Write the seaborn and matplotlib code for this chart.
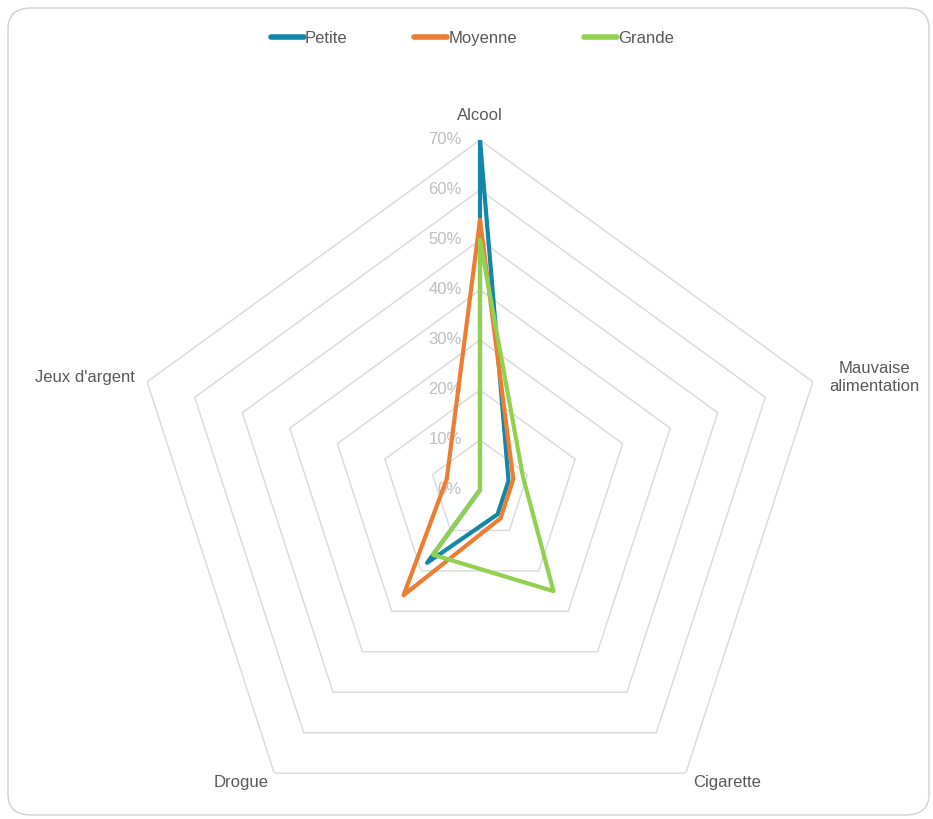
import numpy as np
import pandas as pd
import matplotlib
matplotlib.use("Agg")
import matplotlib.pyplot as plt
from matplotlib.patches import FancyBboxPatch
import seaborn as sns

# --- data ---
categories = ["Alcool", "Mauvaise\nalimentation", "Cigarette", "Drogue", "Jeux d'argent"]
series_names = ["Petite", "Moyenne", "Grande"]
petite = [0.70, 0.06, 0.06, 0.18, 0.00]
moyenne = [0.54, 0.07, 0.07, 0.26, 0.07]
grande = [0.50, 0.09, 0.25, 0.16, 0.00]
ring_values = [0.0, 0.1, 0.2, 0.3, 0.4, 0.5, 0.6, 0.7]
ring_labels = ["0%", "10%", "20%", "30%", "40%", "50%", "60%", "70%"]

colors = ["#1387A8", "#ED7D31", "#92D050"]
grid_color = "#D9D9D9"
text_color = "#595959"
tick_color = "#BFBFBF"

sns.set_theme(style="white")
plt.rcParams["font.family"] = ["Liberation Sans", "DejaVu Sans"]

n = len(categories)
theta = np.arange(n) * 2 * np.pi / n
theta_closed = np.append(theta, 2 * np.pi)

rows = []
for name, vals in zip(series_names, [petite, moyenne, grande]):
    closed = list(vals) + [vals[0]]
    for t, v in zip(theta_closed, closed):
        rows.append({"theta": t, "value": v, "series": name})
df = pd.DataFrame(rows)

W, H = 933, 819
fig = plt.figure(figsize=(W / 100, H / 100), dpi=100)

# outer rounded frame
frame = FancyBboxPatch((8 / W, 4 / H), (921 / W), (807 / H),
                       boxstyle="round,pad=0,rounding_size=0.025",
                       transform=fig.transFigure, facecolor="none",
                       edgecolor="#D0D0D0", linewidth=1.0, zorder=-1)
fig.patches.append(frame)

# polar axes: centre at (480, 490) px, 70% ring radius 350 px
cx, cy, R = 480, 490, 350
ax = fig.add_axes([(cx - R) / W, (H - cy - R) / H, 2 * R / W, 2 * R / H],
                  projection="polar")
ax.set_theta_zero_location("N")
ax.set_theta_direction(-1)
ax.grid(False)
ax.set_xticks([])
ax.set_yticks([])
ax.spines["polar"].set_visible(False)
ax.patch.set_alpha(0)

# polygon rings
for r in ring_values[1:]:
    ax.plot(theta_closed, [r] * (n + 1), color=grid_color, lw=1.0, zorder=1)

# radial tick labels
for r, lab in zip(ring_values, ring_labels):
    ax.annotate(lab, xy=(0, r), xytext=(-13, 0), textcoords="offset points",
                ha="right", va="center", fontsize=12, color=tick_color, zorder=2)

# data series
sns.lineplot(data=df, x="theta", y="value", hue="series", hue_order=series_names,
             palette=colors, sort=False, estimator=None, units="series",
             lw=3, ax=ax, legend=True, zorder=3)
for line in ax.lines[-3:]:
    line.set_solid_joinstyle("miter")
    line.set_solid_capstyle("round")
ax.set_ylim(0, 0.7)
ax.set_xlabel("")
ax.set_ylabel("")

# category labels
label_offsets = [(0, 18, "center"), (44, 3, "center"), (30, -7, "center"),
                 (-24, -7, "center"), (-9, 3, "right")]
for t, lab, (ox, oy, ha) in zip(theta, categories, label_offsets):
    ax.annotate(lab, xy=(t, 0.7), xytext=(ox, oy), textcoords="offset points",
                ha=ha, va="center", multialignment="center",
                fontsize=12, color=text_color, annotation_clip=False)

handles, labels = ax.get_legend_handles_labels()
ax.get_legend().remove()
for h in handles:
    h.set_linewidth(4)
    h.set_solid_capstyle("round")
leg = fig.legend(handles, labels, loc="center", bbox_to_anchor=(0.506, 0.953),
                 ncol=3, frameon=False, fontsize=12, handlelength=2.0,
                 handletextpad=0.05, columnspacing=4.0)
for txt in leg.get_texts():
    txt.set_color(text_color)

fig.savefig("out.png", dpi=100)
